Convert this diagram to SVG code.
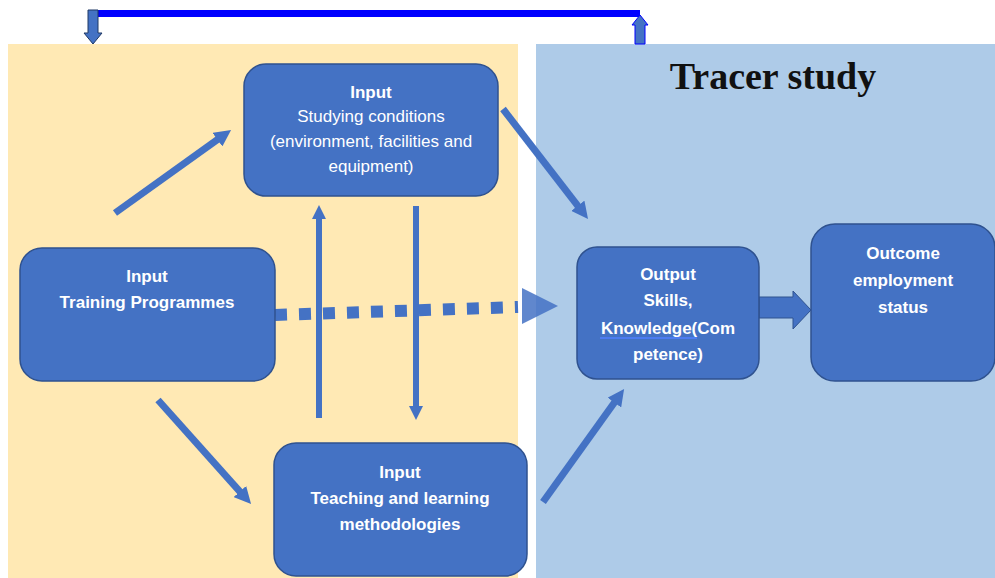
<svg xmlns="http://www.w3.org/2000/svg" width="995" height="578" viewBox="0 0 995 578">
<style>
.node{fill:#4472C4;stroke:#2F528F;stroke-width:1.5}
.t{font-family:"Liberation Sans",Arial,sans-serif;font-size:17px;fill:#fff;text-anchor:middle}
.b{font-weight:bold}
.ar{stroke:#4472C4;fill:none}
</style>
<defs>
<marker id="h" viewBox="0 0 10 10" markerWidth="2.4" markerHeight="2.4" refX="1" refY="5" orient="auto" markerUnits="strokeWidth">
<path d="M0,0 L10,5 L0,10 z" fill="#4472C4"/>
</marker>
</defs>
<rect x="0" y="0" width="995" height="578" fill="#fff"/>
<rect id="panel-left" x="8" y="44" width="510" height="534" fill="#FFE9B4"/>
<rect id="panel-right" x="536" y="44" width="459" height="534" fill="#AECBE8"/>
<text x="773" y="89" style="font-family:'Liberation Serif','Times New Roman',serif;font-size:38px;font-weight:bold;fill:#111;text-anchor:middle">Tracer study</text>

<g id="connectors">
<rect x="92" y="10" width="548" height="7" fill="#0000FF"/>
<polygon points="88,10 98,10 98,33 102,33 93,44 84,33 88,33" fill="#4472C4" stroke="#1F3864" stroke-width="1"/>
<polygon points="640,15 648,25 645,25 645,44 635,44 635,25 632,25" fill="#4472C4" stroke="#0000FF" stroke-width="1"/>
<line x1="275" y1="315" x2="518" y2="307" stroke="#4472C4" stroke-width="12" stroke-dasharray="12 12"/>
<polygon points="522,288 558,306 522,324" fill="#4472C4" fill-opacity="0.85"/>
<line class="ar" x1="115" y1="213" x2="218.8" y2="138.7" stroke-width="7" marker-end="url(#h)"/>
<line class="ar" x1="158" y1="400" x2="241" y2="492.8" stroke-width="7" marker-end="url(#h)"/>
<line class="ar" x1="503" y1="109" x2="578.8" y2="207.1" stroke-width="7" marker-end="url(#h)"/>
<line class="ar" x1="543" y1="502" x2="615.3" y2="401.2" stroke-width="7" marker-end="url(#h)"/>
<line class="ar" x1="319" y1="418" x2="319" y2="218" stroke-width="6" marker-end="url(#h)"/>
<line class="ar" x1="416" y1="206" x2="416" y2="407" stroke-width="6" marker-end="url(#h)"/>
<polygon points="759,297 793,297 793,291 811,310 793,329 793,318 759,318" fill="#4472C4" stroke="#2F528F" stroke-width="1"/>
</g>

<g id="node-studying">
<rect class="node" x="244" y="64" width="254" height="132" rx="22"/>
<text class="t b" x="371" y="98">Input</text>
<text class="t" x="371" y="122">Studying conditions</text>
<text class="t" x="371" y="147">(environment, facilities and</text>
<text class="t" x="371" y="172">equipment)</text>
</g>
<g id="node-training">
<rect class="node" x="20" y="248" width="255" height="133" rx="22"/>
<text class="t b" x="147" y="282">Input</text>
<text class="t b" x="147" y="308">Training Programmes</text>
</g>
<g id="node-teaching">
<rect class="node" x="274" y="443" width="253" height="133" rx="22"/>
<text class="t b" x="400" y="478">Input</text>
<text class="t b" x="400" y="504">Teaching and learning</text>
<text class="t b" x="400" y="530">methodologies</text>
</g>
<g id="node-output">
<rect class="node" x="577" y="247" width="182" height="132" rx="20"/>
<text class="t b" x="668" y="280">Output</text>
<text class="t b" x="668" y="306">Skills,</text>
<text class="t b" x="668" y="334">Knowledge(Com</text>
<line x1="600" y1="338" x2="697" y2="338" stroke="#4F81FF" stroke-width="1.5"/>
<text class="t b" x="668" y="360">petence)</text>
</g>
<g id="node-outcome">
<rect class="node" x="811" y="224" width="184" height="157" rx="24"/>
<text class="t b" x="903" y="259">Outcome</text>
<text class="t b" x="903" y="286">employment</text>
<text class="t b" x="903" y="313">status</text>
</g>
</svg>
